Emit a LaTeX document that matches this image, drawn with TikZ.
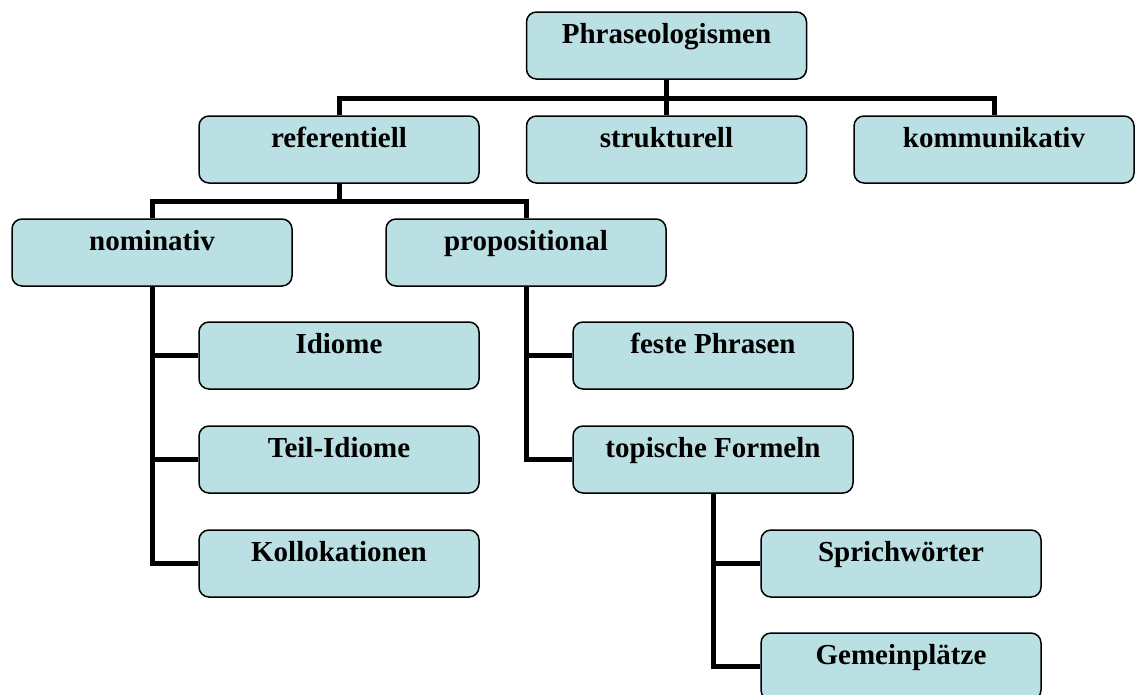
\documentclass[tikz,border=0pt]{standalone}
\usepackage{fontspec}
\setmainfont{Liberation Serif}
\usetikzlibrary{positioning}

\definecolor{kastenfarbe}{RGB}{187,224,227}

\tikzset{
	kasten/.style={draw=black, line width=1.5pt, fill=kastenfarbe, rounded corners=10pt,
		minimum width=280pt, inner sep=0pt, text height=31pt, text depth=36pt,
		font=\fontsize{29}{34}\selectfont\bfseries},
	verbindung/.style={line width=5pt}
}

\begin{document}
\begin{tikzpicture}[x=1pt, y=-1pt]
			%\draw[help lines] (0,0) grid (1135,694);
			\clip (0,0) rectangle (1135,694);

			% erste und zweite Ebene
			\node[kasten] (phr) at (666.5, 45.5) {Phraseologismen};
			\node[kasten] (ref) at (339, 149.5) {referentiell};
			\node[kasten] (str) at (666.5, 149.5) {strukturell};
			\node[kasten] (kom) at (994, 149.5) {kommunikativ};

			% dritte Ebene
			\node[kasten] (nom) at (152, 252.5) {nominativ};
			\node[kasten] (prop) at (526, 252.5) {propositional};

			\node[kasten] (idi) at (339, 355.5) {Idiome};
			\node[kasten] (teil) at (339, 459.5) {Teil-Idiome};
			\node[kasten] (kol) at (339, 563.5) {Kollokationen};

			\node[kasten] (fes) at (713, 355.5) {feste Phrasen};
			\node[kasten] (top) at (713, 459.5) {topische Formeln};

			\node[kasten] (spr) at (901, 563.5) {Sprichwörter};
			\node[kasten] (gem) at (901, 666.5) {Gemeinplätze};

			\draw[verbindung] (phr.south) -- ++(0,19) -| (ref.north);
			\draw[verbindung] (phr.south) -- ++(0,19) -| (kom.north);
			\draw[verbindung] (phr.south) -- (str.north);

			\draw[verbindung] (ref.south) -- ++(0,18) -| (nom.north);
			\draw[verbindung] (ref.south) -- ++(0,18) -| (prop.north);

			\draw[verbindung] (nom.south) |- (idi.west);
			\draw[verbindung] (nom.south) |- (teil.west);
			\draw[verbindung] (nom.south) |- (kol.west);

			\draw[verbindung] (prop.south) |- (fes.west);
			\draw[verbindung] (prop.south) |- (top.west);

			\draw[verbindung] (top.south) |- (spr.west);
			\draw[verbindung] (top.south) |- (gem.west);
		\end{tikzpicture}
\end{document}
